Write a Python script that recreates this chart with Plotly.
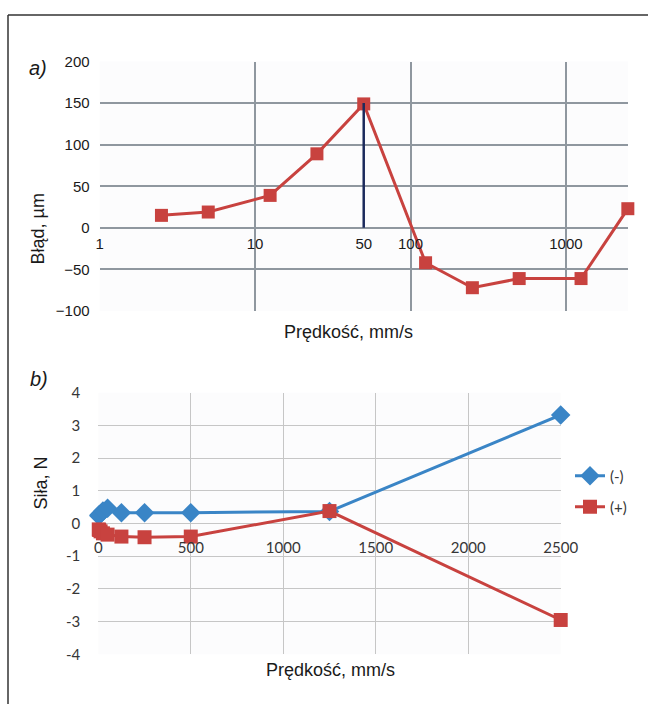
import math
import plotly.graph_objects as go

# ---------------- data ----------------
speeds = [2.5, 5, 12.5, 25, 50, 125, 250, 500, 1250, 2500]
error_um = [15, 19, 39, 89, 149, -42, -72, -61, -61, 23]
force_minus = [0.24, 0.27, 0.30, 0.38, 0.47, 0.33, 0.33, 0.33, 0.37, 3.32]
force_plus = [-0.18, -0.20, -0.24, -0.30, -0.34, -0.40, -0.42, -0.40, 0.38, -2.95]

marker_speed = 50
marker_range = [0, 150]

a_tick_vals = [1, 10, 50, 100, 1000]
a_tick_text = ["1", "10", "50", "100", "1000"]
a_grid_vals = [1, 10, 100, 1000]
a_y_ticks = [-100, -50, 0, 50, 100, 150, 200]
b_x_ticks = [0, 500, 1000, 1500, 2000, 2500]
b_y_ticks = [-4, -3, -2, -1, 0, 1, 2, 3, 4]
b_y_tick_text = ["-4", "-3", "-2", "-1", "0", "1", "2", "3", "4"]

# ---------------- layout geometry ----------------
W, H = 648, 704
def px_x(v):
    return v / W
def px_y(v):
    return 1 - v / H

a_xdom = [px_x(99.6), px_x(628)]
a_ydom = [px_y(311), px_y(61.5)]
b_xdom = [px_x(98.3), px_x(560.7)]
b_ydom = [px_y(654.3), px_y(392.7)]

a_xrange = [0, 3.399]
a_yrange = [-100, 200]
b_yrange = [-4, 4]
a_zero_pos = a_ydom[0] + (0 - a_yrange[0]) / (a_yrange[1] - a_yrange[0]) * (a_ydom[1] - a_ydom[0])
b_zero_pos = b_ydom[0] + (0 - b_yrange[0]) / (b_yrange[1] - b_yrange[0]) * (b_ydom[1] - b_ydom[0])

RED = "#c8423f"
BLUE = "#3a85c6"
NAVY = "#1b2a5c"
GRID_A = "#8f979f"
GRID_B = "#c6c6c6"
ARIAL = "Liberation Sans, Arial, sans-serif"
CAL = "Lato, Liberation Sans, sans-serif"
B_TXT = "#363636"

fig = go.Figure()

# panel a
fig.add_trace(go.Scatter(
    x=speeds, y=error_um, mode="lines+markers", xaxis="x", yaxis="y",
    line=dict(color=RED, width=3), marker=dict(symbol="square", size=13, color=RED),
    showlegend=False, cliponaxis=False))
fig.add_trace(go.Scatter(
    x=[marker_speed, marker_speed], y=marker_range, mode="lines", xaxis="x", yaxis="y",
    line=dict(color=NAVY, width=2.5), showlegend=False))
# carrier trace so that the tick-label axis placed at y = 0 is drawn
fig.add_trace(go.Scatter(
    x=[marker_speed], y=[marker_range[0]], mode="markers", xaxis="x3", yaxis="y",
    marker=dict(opacity=0, size=1), showlegend=False, hoverinfo="skip"))

# panel b
fig.add_trace(go.Scatter(
    x=speeds, y=force_minus, mode="lines+markers", xaxis="x2", yaxis="y2", name="(-)",
    line=dict(color=BLUE, width=3), marker=dict(symbol="diamond", size=15, color=BLUE),
    legend="legend", cliponaxis=False))
fig.add_trace(go.Scatter(
    x=speeds, y=force_plus, mode="lines+markers", xaxis="x2", yaxis="y2", name="(+)",
    line=dict(color=RED, width=3), marker=dict(symbol="square", size=14, color=RED),
    legend="legend2", cliponaxis=False))

fig.update_layout(
    autosize=True,
    margin=dict(l=0, r=0, t=0, b=0, autoexpand=False),
    paper_bgcolor="white", plot_bgcolor="#fcfcfd",
    xaxis=dict(domain=a_xdom, type="log", range=a_xrange, tickvals=a_grid_vals,
               showticklabels=False, showgrid=True, gridcolor=GRID_A, gridwidth=1.6,
               zeroline=False, showline=False, ticks="", anchor="y"),
    yaxis=dict(domain=a_ydom, range=a_yrange, tickvals=a_y_ticks, showgrid=True,
               gridcolor=GRID_A, gridwidth=1.6, zeroline=False, showline=False,
               ticks="", anchor="x", ticklabelstandoff=9,
               tickfont=dict(family=ARIAL, size=15, color="#1a1a1a")),
    xaxis3=dict(overlaying="x", type="log", range=a_xrange, tickvals=a_tick_vals,
                ticktext=a_tick_text, showgrid=False, zeroline=False, showline=False,
                ticks="", anchor="free", position=a_zero_pos, ticklabelstandoff=5,
                tickfont=dict(family=ARIAL, size=15, color="#1a1a1a")),
    xaxis2=dict(domain=b_xdom, range=[0, 2500], tickvals=b_x_ticks, showgrid=True,
                gridcolor=GRID_B, gridwidth=1, zeroline=False, showline=False, ticks="",
                anchor="free", position=b_zero_pos, ticklabelstandoff=13,
                tickfont=dict(family=CAL, size=15, color=B_TXT)),
    yaxis2=dict(domain=b_ydom, range=b_yrange, tickvals=b_y_ticks, ticktext=b_y_tick_text,
                showgrid=True, gridcolor=GRID_B, gridwidth=1, zeroline=False,
                showline=False, ticks="", anchor="x2", ticklabelstandoff=17,
                tickfont=dict(family=CAL, size=15, color=B_TXT)),
    legend=dict(x=px_x(570), y=px_y(476), xanchor="left", yanchor="middle",
                font=dict(family=CAL, size=15, color=B_TXT), bgcolor="rgba(0,0,0,0)"),
    legend2=dict(x=px_x(570), y=px_y(507), xanchor="left", yanchor="middle",
                 font=dict(family=CAL, size=15, color=B_TXT), bgcolor="rgba(0,0,0,0)"),
    shapes=[
        dict(type="line", xref="paper", yref="paper", x0=px_x(8), x1=px_x(8),
             y0=-0.02, y1=px_y(15), line=dict(color="#333333", width=1.5)),
        dict(type="line", xref="paper", yref="paper", x0=px_x(8), x1=1.02,
             y0=px_y(15), y1=px_y(15), line=dict(color="#333333", width=1.5)),
    ],
    annotations=[
        dict(text="<i>a)</i>", x=px_x(27), y=px_y(55), xref="paper", yref="paper",
             showarrow=False, font=dict(family=ARIAL, size=20, color="#1a1a1a")),
        dict(text="<i>b)</i>", x=px_x(28), y=px_y(379), xref="paper", yref="paper",
             showarrow=False, font=dict(family=ARIAL, size=20, color="#1a1a1a")),
        dict(text="Błąd, µm", x=px_x(25), y=px_y(192), xref="paper", yref="paper",
             showarrow=False, textangle=-90, font=dict(family=ARIAL, size=18, color="#1a1a1a")),
        dict(text="Prędkość, mm/s", x=px_x(349), y=px_y(332), xref="paper", yref="paper",
             showarrow=False, font=dict(family=ARIAL, size=18, color="#1a1a1a")),
        dict(text="Siła, N", x=px_x(28), y=px_y(512), xref="paper", yref="paper",
             showarrow=False, textangle=-90, font=dict(family=ARIAL, size=18, color="#1a1a1a")),
        dict(text="Prędkość, mm/s", x=px_x(330), y=px_y(682), xref="paper", yref="paper",
             showarrow=False, font=dict(family=ARIAL, size=18, color="#1a1a1a")),
    ],
)

fig.write_html(
    "out.html",
    config={"displayModeBar": False, "responsive": False},
    default_width="648px; position:fixed; left:0; top:0",
    default_height=f"{H}px",
)
